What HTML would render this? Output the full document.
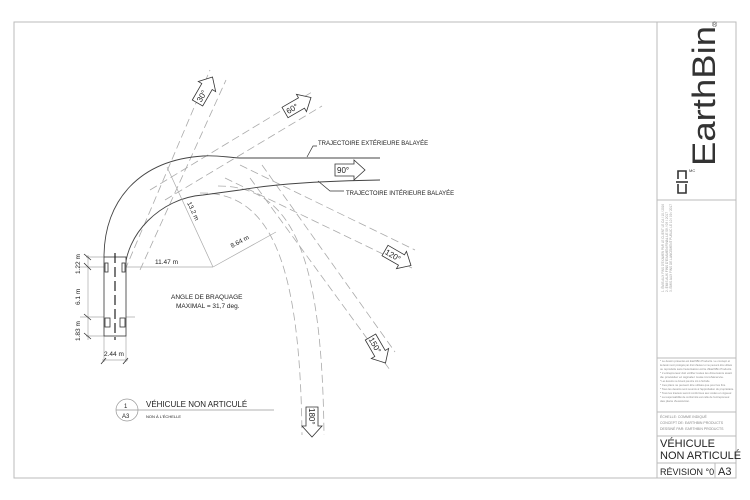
<!DOCTYPE html>
<html><head><meta charset="utf-8"><style>
html,body{margin:0;padding:0;background:#fff;}
svg{display:block;font-family:"Liberation Sans",Arial,sans-serif;}
</style></head><body>
<svg width="750" height="500" viewBox="0 0 750 500" xmlns="http://www.w3.org/2000/svg">
<defs>
<g id="arr"><path d="M-15,-6 L4,-6 L4,-10 L15,0 L4,10 L4,6 L-15,6 Z" fill="#fff" stroke="#333" stroke-width="0.8"/></g>
</defs>
<!-- frame -->
<g fill="none" stroke="#bbb" stroke-width="1">
<path d="M14,22 H736 V478 H14 Z"/>
<line x1="657" y1="22" x2="657" y2="478"/>
<line x1="657" y1="200" x2="736" y2="200"/>
<line x1="657" y1="358" x2="736" y2="358"/>
<line x1="657" y1="412" x2="736" y2="412"/>
<line x1="657" y1="436" x2="736" y2="436"/>
<line x1="657" y1="463" x2="736" y2="463"/>
<line x1="715" y1="463" x2="715" y2="478"/>
</g>
<!-- title block -->
<text transform="translate(715,166) rotate(-90)" font-size="32" fill="#333" textLength="140" lengthAdjust="spacingAndGlyphs">EarthBin</text>
<text x="712" y="27" font-size="7" fill="#333">®</text>
<g fill="none" stroke="#333" stroke-width="1.6">
<path d="M678,179 V171 H686 V179"/>
<path d="M676,182 H688"/>
<path d="M678,184 V193 H686 V184"/>
</g>
<text x="689" y="172" font-size="4" fill="#333">MC</text>
<g font-size="3.5" fill="#999">
<text transform="translate(664,292) rotate(-90)" textLength="88" lengthAdjust="spacingAndGlyphs">1. ÉMIS AUX FINS D'EXAMEN PAR LE CLIENT LE CA / 10 / 2016</text>
<text transform="translate(668,292) rotate(-90)" textLength="80" lengthAdjust="spacingAndGlyphs">2. ÉMIS AUX FINS D'EXAMEN FINAL LE 09 / 09 / 2017</text>
<text transform="translate(672,292) rotate(-90)" textLength="88" lengthAdjust="spacingAndGlyphs">3. ÉMIS AUX FINS DE LANCEMENT PUBLIC LE 10 / 09 / 2017</text>
</g>
<g font-size="3" fill="#888">
<text x="660" y="362" textLength="70" lengthAdjust="spacingAndGlyphs">* Le dessin présenté est EarthBin Products. Le concept et</text>
<text x="660" y="366" textLength="72" lengthAdjust="spacingAndGlyphs">la dessin sont protégés par droit d'auteur et ne peuvent être utilisés</text>
<text x="660" y="370" textLength="72" lengthAdjust="spacingAndGlyphs">ou reproduits sans l'autorisation écrite d'EarthBin Products.</text>
<text x="660" y="374" textLength="72" lengthAdjust="spacingAndGlyphs">* L'entrepreneur doit vérifier toutes les dimensions avant</text>
<text x="660" y="378" textLength="64" lengthAdjust="spacingAndGlyphs">de procéder et signaler toute incohérence.</text>
<text x="660" y="382" textLength="50" lengthAdjust="spacingAndGlyphs">* Les dessins ne doivent pas être mis à l'échelle.</text>
<text x="660" y="386" textLength="66" lengthAdjust="spacingAndGlyphs">* Ces plans ne peuvent être utilisés que pour les fins.</text>
<text x="660" y="390" textLength="74" lengthAdjust="spacingAndGlyphs">* Tous les dessins sont soumis à l'approbation du propriétaire.</text>
<text x="660" y="394" textLength="72" lengthAdjust="spacingAndGlyphs">* Tous les travaux seront conformes aux codes en vigueur.</text>
<text x="660" y="398" textLength="70" lengthAdjust="spacingAndGlyphs">* La responsabilité de conformité est celle de l'entrepreneur.</text>
<text x="660" y="402" textLength="30" lengthAdjust="spacingAndGlyphs">des plans d'exécution.</text>
</g>
<g font-size="3.5" fill="#888">
<text x="660" y="418">ÉCHELLE: COMME INDIQUÉ</text>
<text x="660" y="424">CONCEPT DE: EARTHBIN PRODUCTS</text>
<text x="660" y="430">DESSINÉ PAR: EARTHBIN PRODUCTS</text>
</g>
<text x="660" y="447" font-size="11" fill="#222">VÉHICULE</text>
<text x="660" y="459" font-size="11" fill="#222">NON ARTICULÉ</text>
<text x="660" y="475" font-size="9" fill="#222">RÉVISION °0</text>
<text x="718" y="475" font-size="11" fill="#222">A3</text>

<!-- dashed construction lines -->
<g fill="none" stroke="#aaa" stroke-width="0.8" stroke-dasharray="8,4">
<line x1="125" y1="270" x2="210" y2="70"/>
<line x1="140" y1="270" x2="226" y2="80"/>
<line x1="150" y1="190" x2="312" y2="92"/>
<line x1="165" y1="200" x2="322" y2="106"/>
<line x1="225" y1="178" x2="412" y2="268"/>
<line x1="240" y1="165" x2="415" y2="250"/>
<line x1="250" y1="178" x2="390" y2="370"/>
<line x1="262" y1="165" x2="395" y2="352"/>
<path d="M200,193 C270,192 300,260 302,435"/>
<path d="M218,186 C295,186 322,260 324,435"/>
</g>
<!-- trajectories -->
<g fill="none" stroke="#444" stroke-width="0.9">
<path d="M104,257 C104,200 140,160 203,156 C215,155 225,157 240,158 L380,158"/>
<path d="M125,272 C125,235 160,198 203,195 L240,190 C280,183 330,181 380,180"/>
</g>
<!-- radii -->
<g stroke="#aaa" stroke-width="0.7" fill="none">
<line x1="80" y1="267" x2="213" y2="267"/>
<line x1="213" y1="267" x2="167" y2="167"/>
<line x1="213" y1="267" x2="276" y2="232"/>
<line x1="80" y1="317" x2="135" y2="317"/>
<line x1="86" y1="257" x2="104" y2="257"/>
<line x1="86" y1="336" x2="104" y2="336"/>
<line x1="88" y1="255" x2="88" y2="340"/>
<line x1="104" y1="336" x2="104" y2="362"/>
<line x1="126" y1="336" x2="126" y2="362"/>
<line x1="102" y1="360" x2="128" y2="360"/>
</g>
<g stroke="#333" stroke-width="0.8">
<line x1="84" y1="254" x2="91" y2="260"/><line x1="84" y1="263" x2="91" y2="270"/>
<line x1="84" y1="314" x2="91" y2="320"/><line x1="84" y1="333" x2="91" y2="339"/>
<line x1="101" y1="364" x2="106" y2="358"/><line x1="123" y1="364" x2="128" y2="358"/>
</g>
<!-- vehicle -->
<g fill="#fff" stroke="#333" stroke-width="0.8">
<rect x="104" y="257" width="22" height="79"/>
<rect x="105" y="263" width="3" height="9"/><rect x="122" y="263" width="3" height="9"/>
<rect x="105" y="318" width="5" height="9"/><rect x="120" y="318" width="5" height="9"/>
</g>
<line x1="115" y1="253" x2="115" y2="340" stroke="#222" stroke-width="1.2" stroke-dasharray="10,4"/>
<!-- dims text -->
<g font-size="6.5" fill="#222">
<text x="155" y="264">11.47 m</text>
<text transform="translate(187,203) rotate(65)">13.2 m</text>
<text transform="translate(232,248) rotate(-28)">8.64 m</text>
<text transform="translate(80,274) rotate(-90)">1.22 m</text>
<text transform="translate(80,305) rotate(-90)">6.1 m</text>
<text transform="translate(80,341) rotate(-90)">1.83 m</text>
<text x="104" y="356">2.44 m</text>
<text x="171" y="299">ANGLE DE BRAQUAGE</text>
<text x="176" y="308">MAXIMAL = 31,7 deg.</text>
<text x="318" y="145" font-size="6">TRAJECTOIRE EXTÉRIEURE BALAYÉE</text>
<text x="346" y="195" font-size="6">TRAJECTOIRE INTÉRIEURE BALAYÉE</text>
</g>
<g fill="none" stroke="#333" stroke-width="0.7">
<path d="M307,157 L313,146 H317"/>
<path d="M318,181 L330,191 H344"/>
</g>
<!-- arrows -->
<g font-size="8" fill="#222">
<g transform="translate(205,90) rotate(-60)"><use href="#arr"/><text x="-13" y="3">30°</text></g>
<g transform="translate(298,105) rotate(-30)"><use href="#arr"/><text x="-13" y="3">60°</text></g>
<g transform="translate(350,170)"><use href="#arr"/><text x="-13" y="3">90°</text></g>
<g transform="translate(398,258) rotate(30)"><use href="#arr"/><text x="-14" y="3">120°</text></g>
<g transform="translate(378,350) rotate(60)"><use href="#arr"/><text x="-14" y="3">150°</text></g>
<g transform="translate(312,422) rotate(90)"><use href="#arr"/><text x="-14" y="3">180°</text></g>
</g>
<!-- view title -->
<circle cx="127" cy="410" r="11" fill="#fff" stroke="#999" stroke-width="0.7"/>
<line x1="116" y1="410" x2="274" y2="410" stroke="#999" stroke-width="0.7"/>
<text x="124" y="408" font-size="6" fill="#222">1</text>
<text x="122" y="418" font-size="6" fill="#222">A3</text>
<text x="146" y="407" font-size="8" fill="#222">VÉHICULE NON ARTICULÉ</text>
<text x="146" y="418" font-size="4" fill="#222">NON À L'ÉCHELLE</text>
</svg>
</body></html>
